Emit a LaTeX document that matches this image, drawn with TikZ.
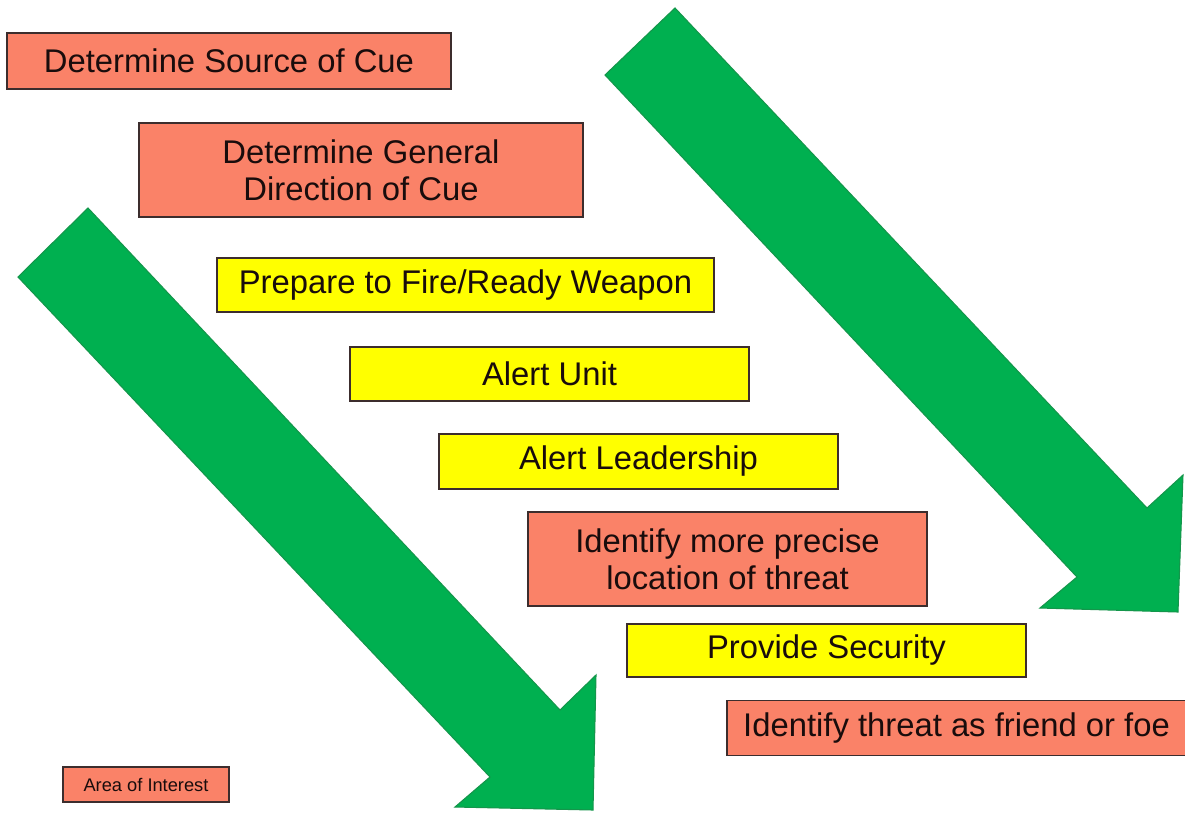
\documentclass[tikz,border=0pt]{standalone}
\usepackage{fontspec}
\setmainfont{Liberation Sans}
\newcommand{\pxu}{0.75pt}
\definecolor{salmon}{RGB}{250,130,104}
\definecolor{cueyellow}{RGB}{255,255,0}
\definecolor{arrowgreen}{RGB}{0,176,80}
\definecolor{arrowedge}{RGB}{20,150,75}
\definecolor{boxedge}{RGB}{60,45,45}
\definecolor{inktext}{RGB}{25,12,12}
\tikzset{
  stepbox/.style={draw=boxedge, line width=1.1pt, inner sep=0pt, outer sep=0pt,
    text=inktext, align=center, font=\fontsize{24.6}{27.75}\selectfont},
  redbox/.style={stepbox, fill=salmon},
  yelbox/.style={stepbox, fill=cueyellow},
  bigarrow/.style={fill=arrowgreen, draw=arrowedge, line width=0.8pt, line join=miter},
}
\begin{document}
\begin{tikzpicture}[x=\pxu, y=-\pxu]
\useasboundingbox (0,0) rectangle (1185,814);
\clip (0,0) rectangle (1185,814);
\fill[white] (0,0) rectangle (1185,814);

% two broad arrows running to the lower right
\draw[bigarrow] (88,208) -- (560,710) -- (596,675) -- (593,810) -- (455,807) -- (490,777) -- (18,277) -- cycle;
\draw[bigarrow] (675,8) -- (1147,508) -- (1183,475) -- (1178,612) -- (1040,608) -- (1077,577) -- (605,75) -- cycle;

% sequence of steps
\node[redbox, minimum width=444*\pxu, minimum height=56*\pxu] (source) at (229,61) {Determine Source of Cue};
\node[redbox, minimum width=444*\pxu, minimum height=94*\pxu] (direction) at (361,170) {Determine General\\Direction of Cue};
\node[yelbox, minimum width=497*\pxu, minimum height=54*\pxu] (prepare) at (465.5,285) {Prepare to Fire/Ready Weapon};
\node[yelbox, minimum width=399*\pxu, minimum height=54*\pxu] (unit) at (549.5,374) {Alert Unit};
\node[yelbox, minimum width=399*\pxu, minimum height=55*\pxu] (leader) at (638.5,461.5) {Alert Leadership};
\node[redbox, minimum width=399*\pxu, minimum height=94*\pxu] (locate) at (727.5,559) {Identify more precise\\location of threat};
\node[yelbox, minimum width=399*\pxu, minimum height=53*\pxu] (security) at (826.5,650.5) {Provide Security};
\node[redbox, minimum width=459*\pxu, minimum height=55*\pxu] (foe) at (956.5,728) {Identify threat as friend or foe};

% legend entry
\node[redbox, line width=0.9pt, font=\fontsize{13.7}{15}\selectfont, minimum width=166*\pxu, minimum height=35*\pxu] (area) at (146,784.5) {Area of Interest};
\end{tikzpicture}
\end{document}
